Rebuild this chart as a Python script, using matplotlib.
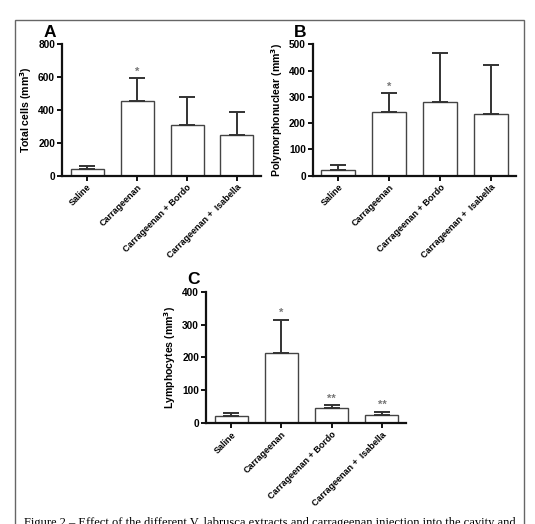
import matplotlib
matplotlib.use("Agg")
import matplotlib.pyplot as plt
from matplotlib.patches import Rectangle

plt.rcParams['font.family'] = ['Liberation Sans', 'DejaVu Sans']

categories = ["Saline", "Carrageenan", "Carrageenan + Bordo", "Carrageenan +  Isabella"]

total_mean = [38, 453, 307, 246]
total_err = [23, 140, 170, 142]
poly_mean = [23, 241, 279, 236]
poly_err = [16, 72, 189, 187]
lymph_mean = [21, 213, 46, 23]
lymph_err = [9, 102, 8, 12]

total_marks = ["", "*", "", ""]
poly_marks = ["", "*", "", ""]
lymph_marks = ["", "*", "**", "**"]

W, H = 535, 524
fig = plt.figure(figsize=(W / 100, H / 100), dpi=100)

# outer frame
fig.add_artist(Rectangle((15 / W, -0.05), (524 - 15) / W, 1 - 20 / H + 0.05,
                         transform=fig.transFigure, fill=False,
                         edgecolor='#666666', linewidth=1.0))


def panel(rect, means, errs, marks, ymax, ystep, ylabel, letter):
    ax = fig.add_axes(rect)
    x = list(range(len(categories)))
    ax.bar(x, means, width=0.66, color='white', edgecolor='#444444',
           linewidth=1.0, zorder=2)
    ax.errorbar(x, means, yerr=[[0] * len(errs), errs], fmt='none',
                ecolor='#333333', elinewidth=1.4, capsize=6, capthick=1.4,
                zorder=3)
    for xi, m, e, mk in zip(x, means, errs, marks):
        if mk:
            ax.text(xi, m + e + ymax * 0.01, mk, ha='center', va='bottom',
                    fontsize=8, color='#777777', fontweight='bold')
    ax.set_xlim(-0.5, 3.48)
    ax.set_ylim(0, ymax)
    ax.set_yticks(list(range(0, ymax + 1, ystep)))
    ax.set_xticks(x)
    ax.set_xticklabels(categories, rotation=45, ha='right',
                       rotation_mode='anchor', fontsize=6.5, fontweight='bold')
    for lab in ax.get_yticklabels():
        lab.set_fontweight('bold')
        lab.set_fontsize(7.3)
    ax.tick_params(axis='both', direction='out', length=3.5, width=1.4,
                   pad=1.5, color='#111111')
    for s in ['top', 'right']:
        ax.spines[s].set_visible(False)
    for s in ['left', 'bottom']:
        ax.spines[s].set_linewidth(1.6)
        ax.spines[s].set_color('#111111')
    ax.set_ylabel(ylabel, fontsize=7.6, fontweight='bold', labelpad=3)
    ax.text(-0.06, 1.035, letter, transform=ax.transAxes, ha='center',
            va='bottom', fontsize=12.5, fontweight='bold')
    return ax


panel([62 / W, 1 - 175.7 / H, 199 / W, 131.4 / H], total_mean, total_err,
      total_marks, 800, 200, "Total cells (mm$^\\mathbf{3}$)", "A")
panel([312.7 / W, 1 - 175.7 / H, 203 / W, 131.4 / H], poly_mean, poly_err,
      poly_marks, 500, 100, "Polymorphonuclear (mm$^\\mathbf{3}$)", "B")
panel([206 / W, 1 - 423 / H, 200 / W, 131.3 / H], lymph_mean, lymph_err,
      lymph_marks, 400, 100, "Lymphocytes (mm$^\\mathbf{3}$)", "C")

fig.text(24 / W, 1 - 517 / H,
         "Figure 2 \u2013 Effect of the different V. labrusca extracts and carrageenan injection into the cavity and",
         ha='left', va='top', fontsize=9, family=['Liberation Serif', 'DejaVu Serif'])

fig.savefig("out.png", dpi=100)
